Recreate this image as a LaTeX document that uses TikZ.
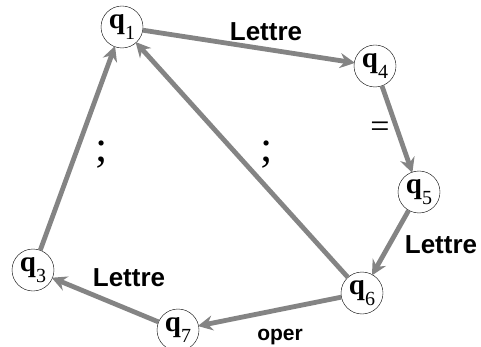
\documentclass[tikz,border=0pt]{standalone}
\usepackage{fontspec}
\setmainfont{Liberation Serif}
\newfontfamily\lblfont{Liberation Sans}
\usetikzlibrary{arrows.meta, positioning}
\definecolor{edgegray}{RGB}{132,132,132}
\tikzset{
  st/.style={circle, draw, thin, minimum size=42pt, inner sep=0pt,
             font=\fontsize{29}{29}\selectfont},
  arr/.style={-{Stealth[length=15pt, width=15pt, inset=5pt]}, line width=4.8pt, draw=edgegray,
              shorten >=-1pt},
  lbl/.style={font=\lblfont\bfseries\fontsize{26}{26}\selectfont, inner sep=0pt},
  sym/.style={font=\fontsize{44}{44}\selectfont, inner sep=0pt},
}
\newcommand{\qs}[1]{\textbf{q}\raisebox{-11pt}{\fontsize{20}{20}\selectfont #1}}

\begin{document}
\begin{tikzpicture}[x=1pt, y=-1pt]
  \useasboundingbox (0,0) rectangle (481,347);
  \node[st] (q1) at (122,27)  {\qs{1}};
  \node[st] (q4) at (375,66)  {\qs{4}};
  \node[st] (q5) at (419,192) {\qs{5}};
  \node[st] (q6) at (362,293) {\qs{6}};
  \node[st] (q7) at (178,330) {\qs{7}};
  \node[st] (q3) at (33,270)  {\qs{3}};

  \draw[arr] (q1) -- (q4);
  \draw[arr] (q4) -- (q5);
  \draw[arr] (q5) -- (q6);
  \draw[arr] (q6) -- (q7);
  \draw[arr] (q7) -- (q3);
  \draw[arr] (q3) -- (q1);
  \draw[arr] (q6) -- (q1);

  \node[lbl] (l14) at (266,32)  {Lettre};
  \node[sym, font=\fontsize{34}{34}\selectfont] (l45) at (380,130) {=};
  \node[lbl] (l56) at (441,245) {Lettre};
  \node[lbl, font=\lblfont\bfseries\fontsize{21}{21}\selectfont] (l67) at (280,337) {oper};
  \node[lbl] (l73) at (129,278) {Lettre};
  \node[sym] (l31) at (102,155) {;};
  \node[sym] (l61) at (267,155) {;};
\end{tikzpicture}
\end{document}
